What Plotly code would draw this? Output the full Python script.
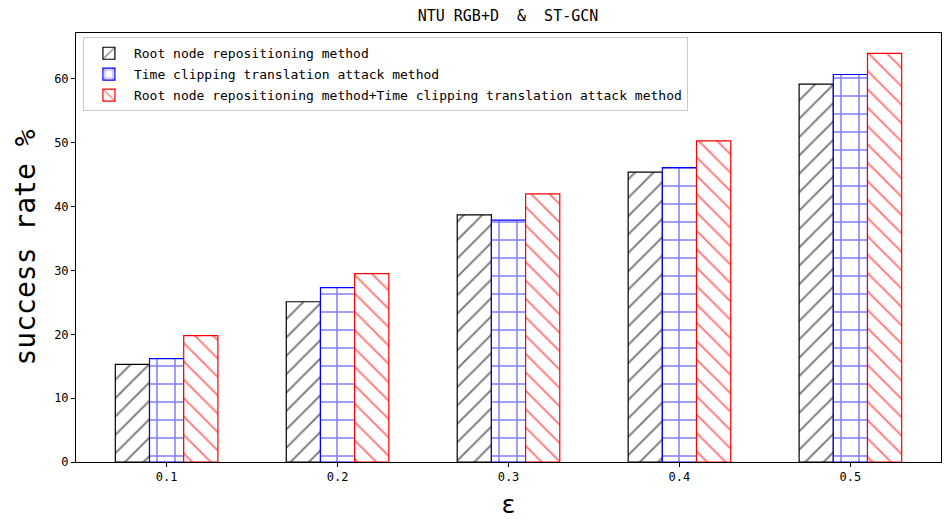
import plotly.graph_objects as go

eps = [0.1, 0.2, 0.3, 0.4, 0.5]
tick_labels = ["0.1", "0.2", "0.3", "0.4", "0.5"]
root_node = [15.3, 25.1, 38.7, 45.4, 59.2]
time_clip = [16.2, 27.3, 37.9, 46.1, 60.7]
combined = [19.8, 29.5, 42.0, 50.3, 64.0]

names = ["Root node repositioning method",
         "Time clipping translation attack method",
         "Root node repositioning method+Time clipping translation attack method"]
colors = ["black", "blue", "red"]
shapes = ["/", "+", "\\"]
sizes = [13, 18, 13]
solid = [0.15, 0.16, 0.15]
series = [root_node, time_clip, combined]

mono = "DejaVu Sans Mono"

fig = go.Figure()
for i, (nm, vals, col, shp, sz, so) in enumerate(zip(names, series, colors, shapes, sizes, solid)):
    fig.add_trace(go.Bar(
        x=eps, y=vals, name=nm, legendgroup=f"g{i}",
        marker=dict(color="white",
                    line=dict(color=col, width=1.2),
                    pattern=dict(shape=shp, fgcolor=col, bgcolor="white",
                                 size=sz, solidity=so)),
    ))

fig.update_layout(
    width=946, height=519,
    margin=dict(l=76, r=5, t=33, b=57, autoexpand=False),
    paper_bgcolor="white", plot_bgcolor="white",
    barmode="group", bargap=0.4, bargroupgap=0,
    font=dict(family=mono, size=12, color="black"),
    title=dict(text="NTU RGB+D  &  ST-GCN", x=0.537, xanchor="center",
               y=0.969, yanchor="middle", font=dict(family=mono, size=15),
               automargin=False),
    legend=dict(x=0.008, y=0.99, xanchor="left", yanchor="top",
                bgcolor="rgba(255,255,255,0.9)", bordercolor="#cccccc", borderwidth=1,
                font=dict(family=mono, size=13), tracegroupgap=1,
                itemwidth=40),
    showlegend=True,
)
fig.update_xaxes(
    range=[0.047, 0.553], tickvals=eps, ticktext=tick_labels,
    showline=True, linecolor="black", linewidth=1, mirror=True,
    ticks="outside", ticklen=4, tickcolor="black", showgrid=False, zeroline=False,
    tickfont=dict(family=mono, size=12), automargin=False,
    title=dict(text="ε", font=dict(family=mono, size=24), standoff=12),
)
fig.update_yaxes(
    range=[0, 67.2], tickvals=[0, 10, 20, 30, 40, 50, 60],
    showline=True, linecolor="black", linewidth=1, mirror=True,
    ticks="outside", ticklen=4, tickcolor="black", showgrid=False, zeroline=False,
    tickfont=dict(family=mono, size=12), automargin=False,
    title=dict(text="success rate %", font=dict(family=mono, size=28), standoff=10),
)

fig.write_html("out.html", config={"displayModeBar": False},
               post_script="document.body.style.margin='0';")
